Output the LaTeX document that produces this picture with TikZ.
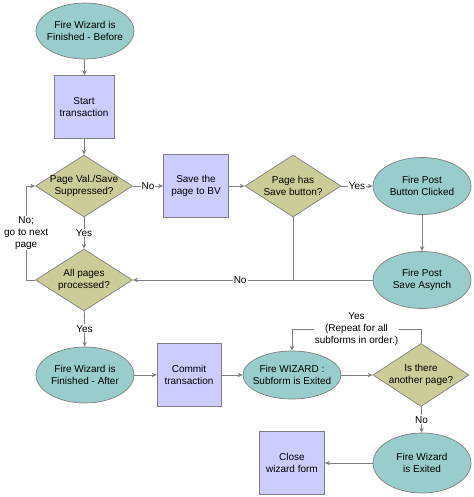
\documentclass[tikz,border=0pt]{standalone}
\usepackage{fontspec}
\setmainfont{Liberation Sans}
\usetikzlibrary{shapes.geometric, arrows.meta}
\definecolor{elcor}{HTML}{99CCCC}
\definecolor{caixacor}{HTML}{CCCCFF}
\definecolor{losangocor}{HTML}{CCCC99}
\definecolor{cinza}{HTML}{808080}
\begin{document}
\begin{tikzpicture}[x=1pt, y=-1pt,
	font=\fontsize{10}{12}\selectfont,
	evento/.style={draw=cinza, line width=0.7pt, fill=elcor, ellipse, align=center,
		minimum width=98pt, minimum height=56pt, inner xsep=-5pt, inner ysep=0pt},
	caixa/.style={draw=cinza, line width=0.7pt, fill=caixacor, rectangle, align=center,
		minimum width=64pt, minimum height=63pt, inner sep=1pt},
	decisao/.style={draw=cinza, line width=0.7pt, fill=losangocor, diamond, aspect=1.56, align=center,
		minimum width=97pt, minimum height=62pt, inner xsep=-6pt, inner ysep=0pt},
	seta/.style={draw=cinza, line width=0.8pt, -{Stealth[length=5pt, width=4.5pt]}},
	traco/.style={draw=cinza, line width=0.8pt},
	rotulo/.style={fill=white, inner sep=1pt, align=center}]
	\useasboundingbox (0, 0) rectangle (473, 497);

	%coluna da esquerda
	\node[evento] (fb) at (85, 31) {Fire Wizard is\\Finished - Before};
	\node[caixa, minimum width=60pt] (st) at (84, 107) {Start\\transaction};
	\node[decisao] (pv) at (84, 186) {Page Val./Save\\Suppressed?};
	\node[decisao] (ap) at (84, 280) {All pages\\processed?};
	\node[evento] (fa) at (85, 375) {Fire Wizard is\\Finished - After};

	%linha de cima
	\node[caixa, minimum width=65pt] (sv) at (196, 186) {Save the\\page to BV};
	\node[decisao, minimum width=96pt] (ps) at (293, 186) {Page has\\Save button?};
	\node[evento, minimum height=57pt] (pb) at (422, 186) {Fire Post\\Button Clicked};
	\node[evento, minimum height=57pt] (pa) at (422, 280) {Fire Post\\Save Asynch};

	%linha de baixo
	\node[caixa] (ct) at (189, 375) {Commit\\transaction};
	\node[evento, minimum height=48pt] (fs) at (292, 375) {Fire WIZARD :\\Subform is Exited};
	\node[decisao, minimum width=96pt, minimum height=63pt] (it) at (421, 375) {Is there\\another page?};
	\node[evento, minimum height=60pt] (fe) at (422, 463) {Fire Wizard\\is Exited};
	\node[caixa, minimum width=65pt] (cw) at (292, 463) {Close\\wizard form};

	%ligacoes
	\draw[seta] (fb) -- (st);
	\draw[seta] (st) -- (pv);
	\draw[seta] (pv) -- node[rotulo] {No} (sv);
	\draw[seta] (sv) -- (ps);
	\draw[seta] (ps) -- node[rotulo] {Yes} (pb);
	\draw[seta] (pb) -- (pa);
	\draw[seta] (ps.south) -- (ps.south |- ap.east) -- node[rotulo, pos=0.33] {No} (ap.east);
	\draw[traco] (pa.west) -- (ps.south |- pa.west);
	\draw[seta] (pv) -- node[rotulo] {Yes} (ap);
	\draw[seta] (ap.west) -- ++(-9, 0) |- node[rotulo, pos=0.25] {No;\\go to next\\page} (pv.west);
	\draw[seta] (ap) -- node[rotulo] {Yes} (fa);
	\draw[seta] (fa) -- (ct);
	\draw[seta] (ct) -- (fs);
	\draw[seta] (fs) -- (it);
	\draw[seta] (it.north) -- ++(0, -14) -| node[rotulo, pos=0.25] {Yes\\(Repeat for all\\subforms in order.)} (fs.north);
	\draw[seta] (it) -- node[rotulo] {No} (fe);
	\draw[seta] (fe) -- (cw);
\end{tikzpicture}
\end{document}
